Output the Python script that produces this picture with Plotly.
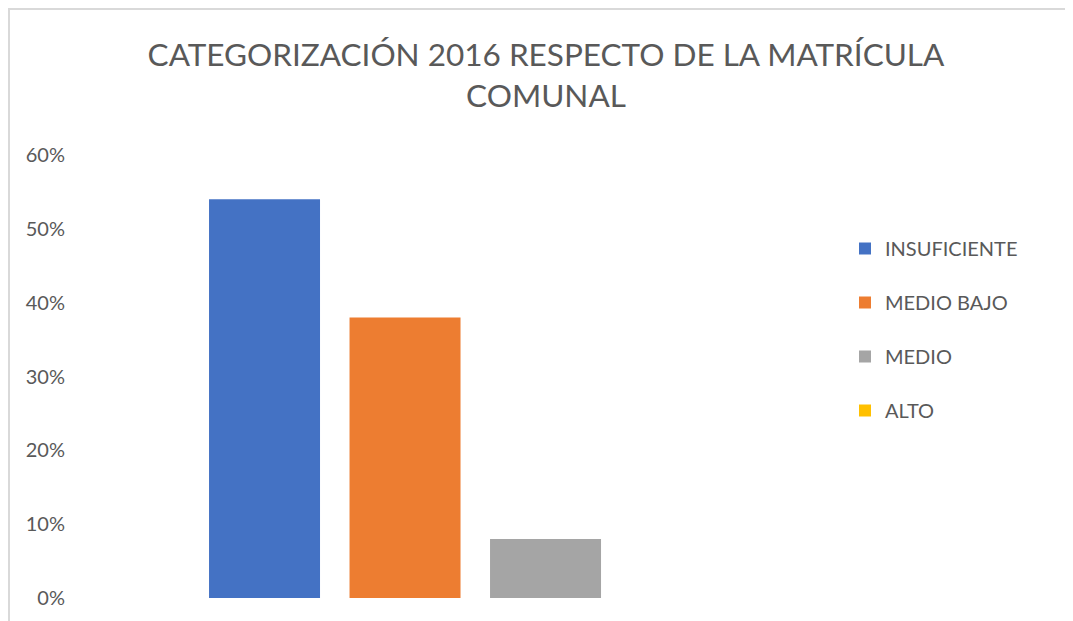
import plotly.graph_objects as go

# ── Data ──────────────────────────────────────────────────────────────────────
CATEGORY = ["2016"]
SERIES   = ["INSUFICIENTE", "MEDIO BAJO", "MEDIO", "ALTO"]
VALUES   = [0.54, 0.38, 0.08, 0.0]
COLORS   = ["#4472C4", "#ED7D31", "#A5A5A5", "#FFC000"]
Y_TICKS  = [0, 0.1, 0.2, 0.3, 0.4, 0.5, 0.6]

TEXT_C = "#595959"
FONT   = "Lato, 'Open Sans', sans-serif"

# page has an 8px body margin, so the figure is a bit smaller than the window
OFF  = 8
W, H = 1073 - OFF, 621 - OFF
L, R, T, B = 58, 243, 147, 23   # plot area in figure px: x 58..822, y 147..590

fig = go.Figure()
for name, val, col in zip(SERIES, VALUES, COLORS):
    fig.add_trace(go.Bar(
        x=[0], y=[val], name=name, legendgroup=name,
        marker=dict(color=col, line=dict(width=0)),
        hovertemplate="%{y:.0%}<extra>" + name + "</extra>",
    ))

# helpers: figure px -> paper coords
pw, ph = W - L - R, H - T - B
def px_x(p): return (p - L) / pw
def px_y(p): return (H - B - p) / ph

# chart frame (light border, cropped at right/bottom)
fig.add_shape(type="line", xref="paper", yref="paper",
              x0=px_x(0), x1=px_x(W + 20), y0=px_y(1), y1=px_y(1),
              line=dict(color="#D9D9D9", width=2))
fig.add_shape(type="line", xref="paper", yref="paper",
              x0=px_x(1), x1=px_x(1), y0=px_y(0), y1=px_y(H + 20),
              line=dict(color="#D9D9D9", width=2))

fig.update_layout(
    width=W, height=H,
    paper_bgcolor="white", plot_bgcolor="white",
    font=dict(family=FONT, color=TEXT_C),
    margin=dict(l=L, r=R, t=T, b=B, autoexpand=False),
    title=dict(
        text="CATEGORIZACIÓN 2016 RESPECTO DE LA MATRÍCULA<br>COMUNAL",
        x=(546 - OFF) / W, xanchor="center", y=1 - 58 / H, yanchor="top",
        font=dict(size=31.5, color=TEXT_C, family=FONT),
    ),
    barmode="group", bargap=0.2644, bargroupgap=0.21,
    showlegend=True,
    legend=dict(
        x=px_x(845 - OFF), xanchor="left", y=px_y(229 - OFF), yanchor="top",
        font=dict(size=20, color=TEXT_C), tracegroupgap=25,
        bgcolor="rgba(0,0,0,0)",
    ),
    xaxis=dict(range=[-0.5357, 0.4643], showticklabels=False, showgrid=False,
               zeroline=False, showline=False, fixedrange=True),
    yaxis=dict(range=[0, 0.6], tickvals=Y_TICKS, tickformat=".0%",
               showgrid=False, zeroline=False, showline=False,
               tickfont=dict(size=20, color=TEXT_C), ticks="",
               fixedrange=True),
)

fig.write_html("out.html")
